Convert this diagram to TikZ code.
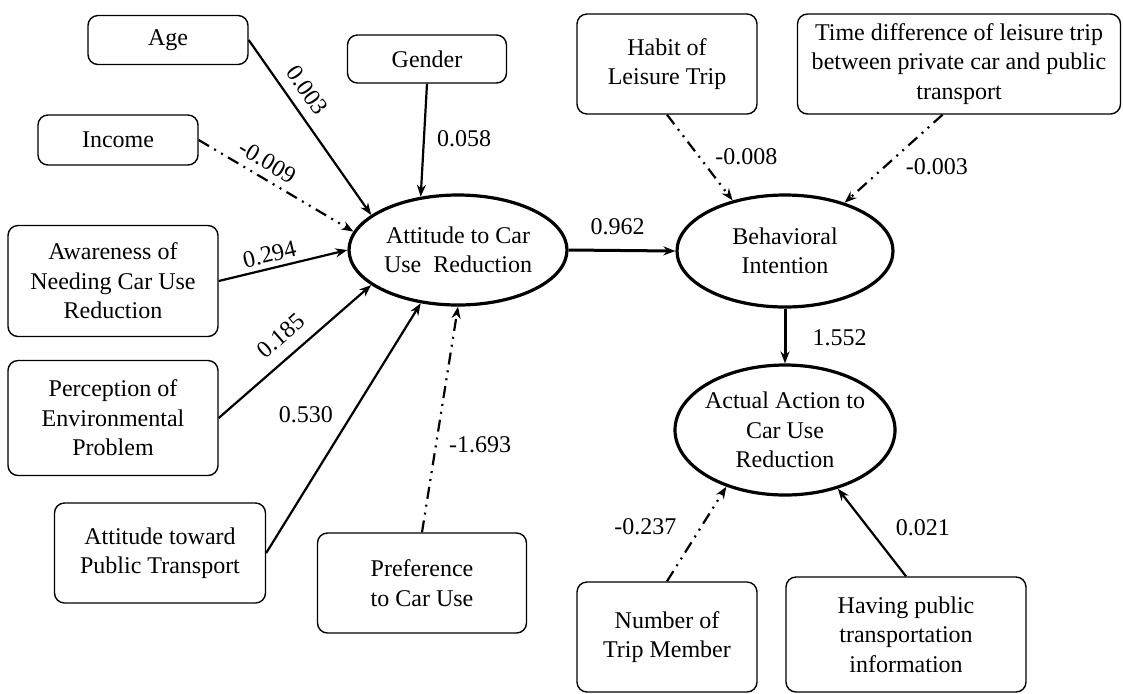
\documentclass[tikz,border=0pt]{standalone}
\usepackage{fontspec}
\setmainfont{Liberation Serif}
\usetikzlibrary{arrows.meta,shapes.geometric}

\begin{document}
\begin{tikzpicture}[
  x=0.5pt, y=-0.5pt,
  every node/.style={font=\fontsize{12}{14.7}\selectfont},
  factor/.style={draw,rounded corners=5pt,line width=0.7pt,align=center,inner sep=2pt},
  latent/.style={draw,ellipse,line width=1.6pt,align=center,inner sep=0pt,inner xsep=-2pt},
  effect/.style={line width=1.1pt,-{Stealth[length=6pt,width=4.5pt]}},
  weak/.style={effect,dash pattern=on 6pt off 3pt on 1pt off 3pt on 1pt off 3pt},
  coef/.style={inner sep=1pt}
]
  \useasboundingbox (0,0) rectangle (1123,693);

  \node[factor,minimum width=80pt,minimum height=24.5pt] (age) at (168,40) {Age};
  \node[factor,minimum width=79.5pt,minimum height=24pt] (gender) at (427,59) {Gender};
  \node[factor,minimum width=80pt,minimum height=25pt] (income) at (118,140) {Income};
  \node[factor,minimum width=105pt,minimum height=55.5pt] (aware) at (113,281)
    {Awareness of\\Needing Car Use\\Reduction};
  \node[factor,minimum width=105pt,minimum height=57.5pt] (envir) at (113,418)
    {Perception of\\Environmental\\Problem};
  \node[factor,minimum width=105.5pt,minimum height=50pt] (ptatt) at (160,553)
    {Attitude toward\\Public Transport};
  \node[factor,minimum width=104.5pt,minimum height=50pt] (pref) at (422,583)
    {Preference\\to Car Use};
  \node[factor,minimum width=90pt,minimum height=50pt] (habit) at (667,64)
    {Habit of\\Leisure Trip};
  \node[factor,minimum width=161.5pt,minimum height=50pt] (timediff) at (959,64)
    {Time difference of leisure trip\\between private car and public\\transport};
  \node[factor,minimum width=90pt,minimum height=55pt] (member) at (667,637)
    {Number of\\Trip Member};
  \node[factor,minimum width=120pt,minimum height=57.5pt] (info) at (906,634.5)
    {Having public\\transportation\\information};

  \node[latent,minimum width=109pt,minimum height=55pt] (att) at (458,250)
    {Attitude to Car\\Use~ Reduction};
  \node[latent,minimum width=108pt,minimum height=56pt] (intent) at (785,251)
    {Behavioral\\Intention};
  \node[latent,minimum width=110pt,minimum height=65pt] (action) at (785,430)
    {Actual Action to\\Car Use\\Reduction};

  \draw[effect] (age.east) -- node[coef,sloped,above=4pt,pos=0.35] {0.003} (att.158);
  \draw[effect] (gender.south) -- node[coef,right=5pt,pos=0.49] {0.058} (att.125);
  \draw[weak] (income.east) -- node[coef,sloped,above=2.5pt,pos=0.39] {-0.009} (att.170);
  \draw[effect] (aware.east) -- node[coef,sloped,above=1.5pt,pos=0.42] {0.294} (att.180);
  \draw[effect] (envir.east) -- node[coef,sloped,above=5pt,pos=0.5] {0.185} (att.202);
  \draw[effect] (ptatt.east) -- node[coef,left=8pt,pos=0.555] {0.530} (att.235);
  \draw[weak] (pref.north) -- node[coef,right=5pt,pos=0.39] {-1.693} (att.270);
  \draw[effect,line width=1.5pt] (att.east) -- node[coef,above=6pt,pos=0.46] {0.962} (intent.west);
  \draw[weak] (habit.south) -- node[coef,right=6.5pt,pos=0.49] {-0.008} (intent.136);
  \draw[weak] (timediff.252) -- node[coef,right=9pt,pos=0.59] {-0.003} (intent.39);
  \draw[effect,line width=1.5pt] (intent.south) -- node[coef,right=12pt,pos=0.53] {1.552} (action.north);
  \draw[weak] (member.north) -- node[coef,left=11pt,pos=0.58] {-0.237} (action.224);
  \draw[effect] (info.north) -- node[coef,right=12.5pt,pos=0.56] {0.021} (action.312);
\end{tikzpicture}
\end{document}
